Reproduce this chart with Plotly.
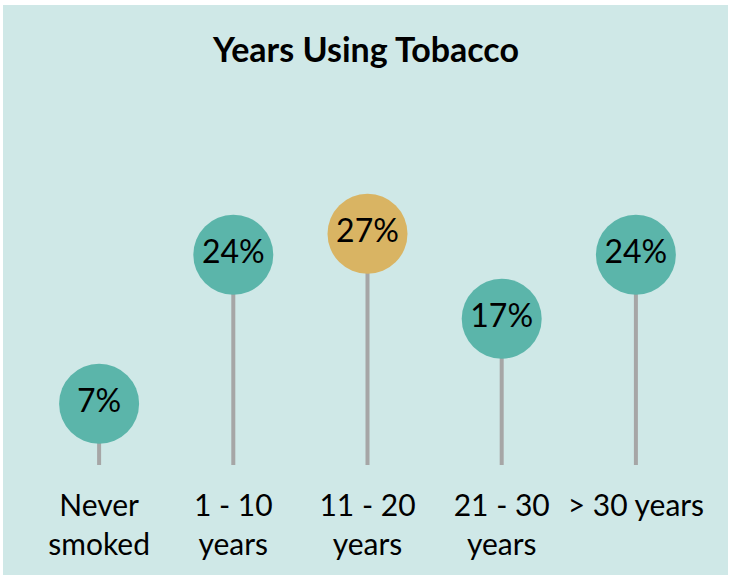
import plotly.graph_objects as go

categories = ["Never<br>smoked", "1 - 10<br>years", "11 - 20<br>years", "21 - 30<br>years", "> 30 years"]
values = [7, 24, 26.4, 16.7, 24]
labels = ["7%", "24%", "27%", "17%", "24%"]
colors = ["#5BB5AA", "#5BB5AA", "#D9B463", "#5BB5AA", "#5BB5AA"]

FONT = "Lato"

stem_x, stem_y = [], []
for c, v in zip(categories, values):
    stem_x += [c, c, None]
    stem_y += [0, v, None]

fig = go.Figure()
fig.add_trace(go.Scatter(x=stem_x, y=stem_y, mode="lines",
                         line=dict(color="#A6A6A6", width=4),
                         hoverinfo="skip", showlegend=False))
fig.add_trace(go.Scatter(x=categories, y=values, mode="markers+text",
                         marker=dict(size=80, color=colors, line=dict(width=0)),
                         text=labels, textposition="middle center",
                         textfont=dict(family=FONT, size=32, color="#000000"),
                         hoverinfo="skip", showlegend=False))

L, R, T, B = 32, 29, 115, 115
W, H = 732, 580
pw, ph = W - L - R, H - T - B

fig.add_shape(type="rect", xref="paper", yref="paper", layer="below",
              x0=(3 - L) / pw, x1=(728 - L) / pw,
              y0=((H - B) - 575) / ph, y1=((H - B) - 5) / ph,
              fillcolor="#CFE8E7", line=dict(width=0))

fig.update_layout(
    width=W, height=H,
    margin=dict(l=L, r=R, t=T, b=B),
    paper_bgcolor="white", plot_bgcolor="rgba(0,0,0,0)",
    title=dict(text="<b>Years Using Tobacco</b>", x=0.5, xanchor="center",
               y=1 - 50 / H, yanchor="middle", yref="container",
               font=dict(family=FONT, size=34, color="#000000")),
    xaxis=dict(type="category", range=[-0.5, 4.5], showgrid=False, zeroline=False,
               showline=False, ticks="", ticklabelstandoff=20,
               tickfont=dict(family=FONT, size=30, color="#000000"),
               fixedrange=True),
    yaxis=dict(range=[0, ph / 8.76], visible=False, fixedrange=True),
)

fig.write_html("out.html")
